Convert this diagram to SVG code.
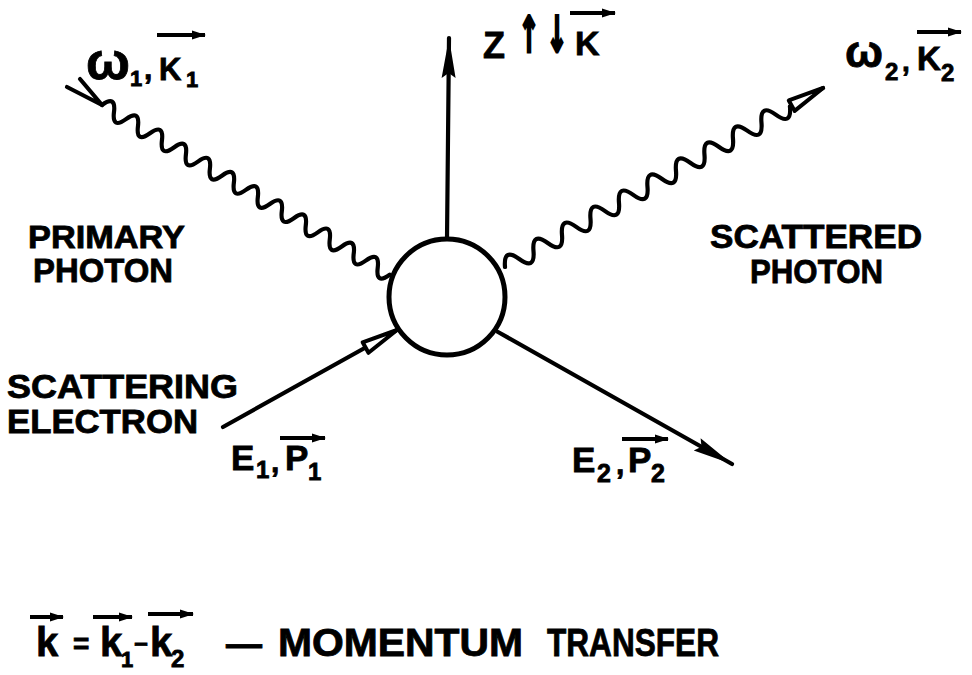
<svg xmlns="http://www.w3.org/2000/svg" width="972" height="675" viewBox="0 0 972 675">
<style>
  .t { font-family: "Liberation Sans", Arial, sans-serif; font-weight: bold; fill: #000; stroke: #000; stroke-width: 0.8; }
  .ln { fill: none; stroke: #000; stroke-width: 4.2; stroke-linecap: round; stroke-linejoin: round; }
  .wave { fill: none; stroke: #000; stroke-width: 4.2; stroke-linejoin: round; stroke-linecap: round; }
  .vec { fill: none; stroke: #000; stroke-width: 3.8; marker-end: url(#vhead); }
  .sym { font-family: "DejaVu Sans", sans-serif; font-weight: bold; fill: #000; stroke: #000; stroke-width: 3; }
</style>
<defs>
  <marker id="solid" markerUnits="userSpaceOnUse" viewBox="0 0 40 16" markerWidth="40" markerHeight="16" refX="40" refY="8" orient="auto" overflow="visible">
    <path d="M0,1 L40,8 L0,15 L5,8 z" fill="#000"/>
  </marker>
  <marker id="open" markerUnits="userSpaceOnUse" viewBox="0 0 38 16" markerWidth="38" markerHeight="16" refX="37" refY="8" orient="auto" overflow="visible">
    <path d="M1,2 L37,8 L1,14 z" fill="#fff" stroke="#000" stroke-width="4" stroke-linejoin="round"/>
  </marker>
  <marker id="vhead" markerUnits="userSpaceOnUse" viewBox="0 0 14 9" markerWidth="14" markerHeight="9" refX="13" refY="4.5" orient="auto" overflow="visible">
    <path d="M0,0 L14,4.5 L0,9 z" fill="#000"/>
  </marker>
</defs>
<rect width="972" height="675" fill="#fff"/>

<g id="connectors">
  <line id="z-axis" class="ln" x1="447" y1="239" x2="449" y2="38" marker-end="url(#solid)"/>
  <g id="primary-photon-line">
    <polyline class="ln" points="67,87 102,105 80,79"/>
    <path class="wave" transform="translate(102,105) rotate(30.55)" d="M0,0 q6.96,-16 13.92,0 t13.92,0 t13.92,0 t13.92,0 t13.92,0 t13.92,0 t13.92,0 t13.92,0 t13.92,0 t13.92,0 t13.92,0 t13.92,0 t13.92,0 t13.92,0 t13.92,0 t13.92,0 t13.92,0 t13.92,0 t13.92,0 t13.92,0 t13.92,0 t13.92,0 t13.92,0 t13.92,0"/>
  </g>
  <g id="scattered-photon-line" transform="translate(505,267) rotate(-29.37)">
    <path class="wave" d="M0,0 q8.18,-18 16.35,0 t16.35,0 t16.35,0 t16.35,0 t16.35,0 t16.35,0 t16.35,0 t16.35,0 t16.35,0 t16.35,0 t16.35,0 t16.35,0 t16.35,0 t16.35,0 t16.35,0 t16.35,0 t16.35,0 t16.35,0 t16.35,0 t16.35,0"/>
    <line class="ln" x1="327" y1="0" x2="365" y2="0" marker-end="url(#open)"/>
  </g>
  <line id="electron-in" class="ln" x1="223" y1="427" x2="397" y2="330" marker-end="url(#open)"/>
  <line id="electron-out" class="ln" x1="498" y1="332" x2="732" y2="464" marker-end="url(#solid)"/>
</g>

<g id="vertex">
  <circle cx="447" cy="297" r="58" fill="#fff" stroke="#000" stroke-width="5"/>
</g>

<g id="label-z">
  <text class="t" x="483" y="58" font-size="36">Z</text>
  <text class="sym" transform="translate(529,52) scale(0.5,1)" font-size="50" text-anchor="middle"><tspan x="0">↑</tspan><tspan x="56">↓</tspan></text>
  <text class="t" x="575" y="55" font-size="34">K</text>
  <line class="vec" x1="570" y1="13" x2="615" y2="13"/>
</g>

<g id="label-w1k1">
  <text class="t" y="79"><tspan x="86" font-size="52">ω</tspan><tspan x="130" y="86" font-size="22">1</tspan><tspan x="144" y="79" font-size="30">,</tspan><tspan x="159" y="80" font-size="31">K</tspan><tspan x="186" y="87" font-size="22">1</tspan></text>
  <line class="vec" x1="157" y1="35" x2="205" y2="35"/>
</g>

<g id="label-w2k2">
  <text class="t" y="67"><tspan x="845" font-size="45">ω</tspan><tspan x="885" y="80" font-size="24">2</tspan><tspan x="902" y="71" font-size="28">,</tspan><tspan x="917" y="70" font-size="33">K</tspan><tspan x="941" y="81" font-size="24">2</tspan></text>
  <line class="vec" x1="917" y1="32" x2="961" y2="32"/>
</g>

<g id="label-primary-photon">
  <text class="t" x="28" y="248" font-size="32" textLength="157" lengthAdjust="spacingAndGlyphs">PRIMARY</text>
  <text class="t" x="33" y="282" font-size="33" textLength="140" lengthAdjust="spacingAndGlyphs">PHOTON</text>
</g>

<g id="label-scattered-photon">
  <text class="t" x="710" y="248" font-size="34" textLength="212" lengthAdjust="spacingAndGlyphs">SCATTERED</text>
  <text class="t" x="750" y="283" font-size="34" textLength="133" lengthAdjust="spacingAndGlyphs">PHOTON</text>
</g>

<g id="label-scattering-electron">
  <text class="t" x="7" y="398" font-size="33" textLength="231" lengthAdjust="spacingAndGlyphs">SCATTERING</text>
  <text class="t" x="7" y="433" font-size="33" textLength="191" lengthAdjust="spacingAndGlyphs">ELECTRON</text>
</g>

<g id="label-e1p1">
  <text class="t" y="470"><tspan x="231" font-size="35">E</tspan><tspan x="256" y="478" font-size="24">1</tspan><tspan x="271" y="472" font-size="30">,</tspan><tspan x="285" y="470" font-size="35">P</tspan><tspan x="308" y="480" font-size="24">1</tspan></text>
  <line class="vec" x1="280" y1="438" x2="325" y2="438"/>
</g>

<g id="label-e2p2">
  <text class="t" y="472"><tspan x="572" font-size="35">E</tspan><tspan x="597" y="482" font-size="25">2</tspan><tspan x="616" y="474" font-size="30">,</tspan><tspan x="628" y="472" font-size="35">P</tspan><tspan x="651" y="482" font-size="25">2</tspan></text>
  <line class="vec" x1="622" y1="439" x2="668" y2="439"/>
</g>

<g id="legend">
  <text class="t" y="656"><tspan x="36" font-size="40">k</tspan><tspan x="73" y="653" font-size="28">=</tspan><tspan x="100" y="656" font-size="40">k</tspan><tspan x="121" y="667" font-size="22">1</tspan><tspan x="134" y="652" font-size="24">−</tspan><tspan x="150" y="656" font-size="40">k</tspan><tspan x="171" y="667" font-size="24">2</tspan><tspan x="226" y="656" font-size="36">—</tspan><tspan x="278" y="656" font-size="38" textLength="245" lengthAdjust="spacingAndGlyphs">MOMENTUM</tspan><tspan x="547" y="656" font-size="38" textLength="172" lengthAdjust="spacingAndGlyphs">TRANSFER</tspan></text>
  <line class="vec" x1="30" y1="617" x2="63" y2="617"/>
  <line class="vec" x1="93" y1="617" x2="132" y2="617"/>
  <line class="vec" x1="148" y1="614" x2="193" y2="614"/>
</g>
</svg>
